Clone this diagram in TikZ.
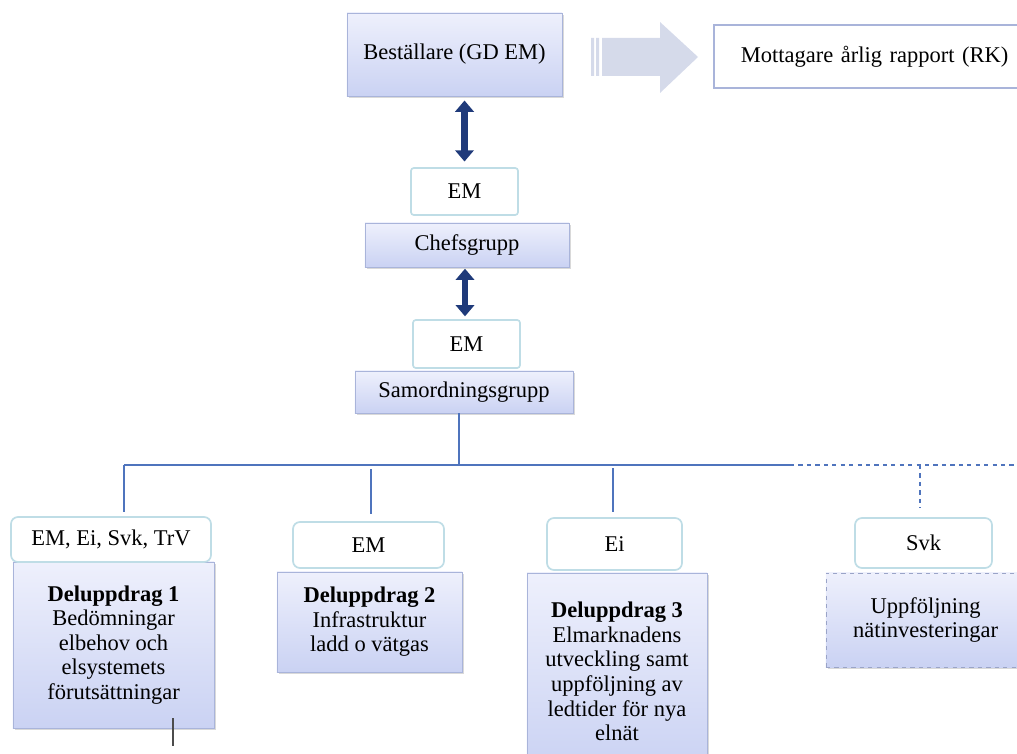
\documentclass[tikz,border=0pt]{standalone}
\usepackage{fontspec}
\setmainfont{Liberation Serif}
\usetikzlibrary{arrows.meta,shadows}
\definecolor{boxtop}{HTML}{EEF0FC}
\definecolor{boxbot}{HTML}{CAD2F3}
\definecolor{boxline}{HTML}{A9B4DA}
\definecolor{tagline}{HTML}{BFDDE6}
\definecolor{wireblue}{HTML}{4F74BD}
\definecolor{navy}{HTML}{1F3A7A}
\definecolor{bigarrow}{HTML}{D5DAEA}
\definecolor{dashline}{HTML}{9AA4C8}
\begin{document}
\begin{tikzpicture}[x=0.025cm,y=-0.025cm,
    font=\fontsize{16}{17.5}\selectfont,
    grp/.style={draw=boxline,top color=boxtop,bottom color=boxbot,align=center,inner sep=2pt,
      drop shadow={shadow xshift=1.5pt,shadow yshift=-1.5pt,opacity=0.3}},
    tag/.style={draw=tagline,line width=1.2pt,fill=white,rounded corners=5pt,align=center,inner sep=2pt},
    wire/.style={draw=wireblue,line width=0.9pt},
    dbl/.style={navy,line width=4.3pt,{Triangle[width=13pt,length=8pt]}-{Triangle[width=13pt,length=8pt]}}]
    \useasboundingbox (0,0) rectangle (1017,754);

    \node[grp,minimum width=5.375cm,minimum height=2.075cm] (best) at (454.5,54.5) {Beställare (GD EM)};
    \fill[bigarrow] (591,38) rectangle (594,76) (596,38) rectangle (599,76)
        (602,38) -- (660,38) -- (660,22) -- (698,57) -- (660,93) -- (660,76) -- (602,76) -- cycle;
    \node[draw=boxline,line width=1.2pt,fill=white,anchor=west,inner xsep=0.675cm,text width=7cm,
        minimum height=1.575cm,align=left] (rk) at (713,56.5) {Mottagare årlig rapport (RK)};

    \node[tag,rounded corners=2pt,minimum width=2.675cm,minimum height=1.175cm] (em1) at (464.5,191.5) {EM};
    \node[grp,minimum width=5.1cm,minimum height=1.1cm] (chef) at (467,245) {Chefsgrupp};
    \node[tag,rounded corners=2pt,minimum width=2.675cm,minimum height=1.2cm] (em2) at (466.5,344) {EM};
    \node[grp,minimum width=5.45cm,minimum height=1.05cm] (samord) at (464,392) {Samordningsgrupp};

    \draw[dbl,shorten <=3pt,shorten >=4pt] (best.south -| em1) -- (em1.north);
    \draw[dbl,shorten <=1pt,shorten >=2pt] (chef.south -| 465,0) -- (em2.north -| 465,0);

    \node[grp,minimum width=5.025cm,minimum height=4.15cm] (d1) at (113.5,645)
        {\textbf{Deluppdrag 1}\\Bedömningar\\elbehov och\\elsystemets\\förutsättningar};
    \node[tag,minimum width=5cm,minimum height=1.125cm] (h1) at (111,539.5) {EM, Ei, Svk, TrV};
    \node[grp,minimum width=4.625cm,minimum height=2.5cm] (d2) at (369.5,622)
        {\textbf{Deluppdrag 2}\\Infrastruktur\\ladd o vätgas};
    \node[tag,minimum width=3.775cm,minimum height=1.15cm] (h2) at (368.5,545) {EM};
    \node[grp,minimum width=4.5cm,minimum height=4.925cm] (d3) at (617,671.5)
        {\textbf{Deluppdrag 3}\\Elmarknadens\\utveckling samt\\uppföljning av\\ledtider för nya\\elnät};
    \node[tag,minimum width=3.375cm,minimum height=1.3cm] (h3) at (614.5,544) {Ei};
    \node[grp,draw=dashline,dashed,minimum width=4.975cm,minimum height=2.35cm] (d4) at (925.5,620)
        {Uppföljning\\nätinvesteringar};
    \node[tag,minimum width=3.425cm,minimum height=1.25cm] (h4) at (923.5,543) {Svk};

    \coordinate (bus) at (459,465);
    \coordinate (bl) at (124,465);
    \coordinate (bd) at (790,465);
    \coordinate (br) at (1017,465);
    \coordinate (t2) at (371,469);
    \coordinate (t3) at (613,468);
    \coordinate (t4) at (920,465);
    \coordinate (stub) at (173,746);

    \draw[wire] (samord.south -| bus) -- (bus);
    \draw[wire] (bl) -- (bd);
    \draw[wire,dashed] (bd) -- (br);
    \draw[wire,shorten >=3pt] (bl) -- (bl |- h1.north);
    \draw[wire,shorten >=5pt] (t2) -- (t2 |- h2.north);
    \draw[wire,shorten >=4pt] (t3) -- (t3 |- h3.north);
    \draw[wire,dashed,shorten >=7pt] (t4) -- (t4 |- h4.north);
    \draw[black!70,line width=0.8pt] (stub |- 0,718) -- (stub);
\end{tikzpicture}
\end{document}
